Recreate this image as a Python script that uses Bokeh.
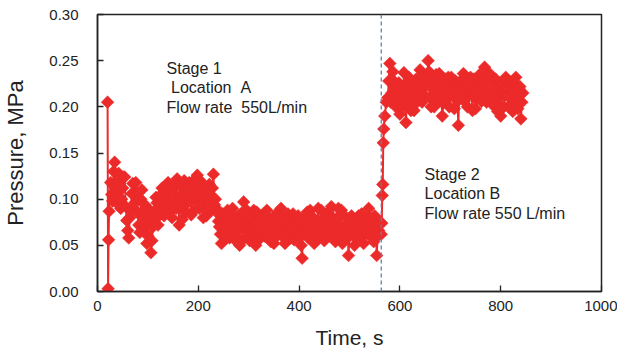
from bokeh.plotting import figure
from bokeh.models import Range1d, FixedTicker, NumeralTickFormatter, Span, Label
from bokeh.embed import file_html
from bokeh.resources import INLINE
import numpy as np

# ---- data ----
time_a = [20, 21, 22, 23,
          26, 30, 34, 38, 42, 46, 50, 54, 58, 62,
          66, 70, 74, 78, 82, 86, 90, 94, 98, 102,
          106, 110, 114, 118, 122, 126, 130, 134, 138, 142,
          146, 150, 154, 158, 162, 166, 170, 174, 178, 182,
          186, 190, 194, 198, 202, 206, 210, 214, 218, 222,
          226, 230, 234, 238, 242, 246, 250, 254, 258, 262,
          266, 270, 274, 278, 282, 286, 290, 294, 298, 302,
          306, 310, 314, 318, 322, 326, 330, 334, 338, 342,
          346, 350, 354, 358, 362, 366, 370, 374, 378, 382,
          386, 390, 394, 398, 402, 406, 410, 414, 418, 422,
          426, 430, 434, 438, 442, 446, 450, 454, 458, 462,
          466, 470, 474, 478, 482, 486, 490, 494, 498, 502,
          506, 510, 514, 518, 522, 526, 530, 534, 538, 542,
          546, 550, 554, 558, 561,
          563, 564, 565, 566, 567, 568, 570, 573, 576,
          580, 584, 588, 592, 596, 600, 604, 608, 612, 616,
          620, 624, 628, 632, 636, 640, 644, 648, 652, 656,
          660, 664, 668, 672, 676, 680, 684, 688, 692, 696,
          700, 704, 708, 712, 716, 720, 724, 728, 732, 736,
          740, 744, 748, 752, 756, 760, 764, 768, 772, 776,
          780, 784, 788, 792, 796, 800, 804, 808, 812, 816,
          820, 824, 828, 832, 836, 840, 844]

pressure_a = [0.205, 0.003, 0.056, 0.087,
              0.118, 0.098, 0.140, 0.105, 0.128, 0.090, 0.112, 0.124, 0.077, 0.058,
              0.088, 0.117, 0.096, 0.108, 0.072, 0.100, 0.085, 0.094, 0.052, 0.078,
              0.042, 0.070, 0.088, 0.096, 0.082, 0.105, 0.090, 0.112, 0.098, 0.085,
              0.108, 0.093, 0.116, 0.122, 0.072, 0.102, 0.088, 0.110, 0.096, 0.118,
              0.083, 0.104, 0.122, 0.126, 0.090, 0.106, 0.080, 0.112, 0.095, 0.116,
              0.088, 0.127, 0.100, 0.085, 0.070, 0.052, 0.078, 0.064, 0.088, 0.058,
              0.072, 0.082, 0.060, 0.076, 0.050, 0.085, 0.097, 0.066, 0.078, 0.055,
              0.072, 0.088, 0.050, 0.068, 0.080, 0.062, 0.084, 0.072, 0.058, 0.078,
              0.066, 0.052, 0.075, 0.086, 0.064, 0.080, 0.058, 0.072, 0.084, 0.066,
              0.074, 0.056, 0.070, 0.082, 0.060, 0.036, 0.068, 0.080, 0.058, 0.088,
              0.070, 0.052, 0.076, 0.090, 0.064, 0.078, 0.055, 0.072, 0.086, 0.066,
              0.080, 0.058, 0.074, 0.090, 0.062, 0.052, 0.070, 0.080, 0.039, 0.064,
              0.076, 0.050, 0.068, 0.082, 0.058, 0.072, 0.064, 0.078, 0.090, 0.060,
              0.070, 0.082, 0.039, 0.066, 0.075,
              0.062, 0.074, 0.104, 0.116, 0.161, 0.176, 0.190, 0.205, 0.210,
              0.247, 0.215, 0.228, 0.200, 0.222, 0.192, 0.210, 0.237, 0.183, 0.225,
              0.205, 0.218, 0.196, 0.230, 0.212, 0.240, 0.205, 0.222, 0.232, 0.250,
              0.210, 0.226, 0.200, 0.235, 0.215, 0.228, 0.190, 0.220, 0.208, 0.232,
              0.218, 0.225, 0.198, 0.222, 0.180, 0.215, 0.230, 0.206, 0.226, 0.212,
              0.232, 0.196, 0.220, 0.208, 0.228, 0.215, 0.224, 0.243, 0.205, 0.232,
              0.215, 0.226, 0.200, 0.222, 0.210, 0.190, 0.225, 0.212, 0.228, 0.200,
              0.218, 0.195, 0.226, 0.210, 0.220, 0.187, 0.215]

time_b = [28, 32, 36, 40, 44, 48, 52, 56, 60, 64,
          68, 72, 76, 80, 84, 88, 92, 96, 100, 104,
          108, 112, 116, 120, 124, 128, 132, 136, 140, 144,
          148, 152, 156, 160, 164, 168, 172, 176, 180, 184,
          188, 192, 196, 200, 204, 208, 212, 216, 220, 224,
          228, 232, 236, 240, 244, 248, 252, 256, 260, 264,
          268, 272, 276, 280, 284, 288, 292, 296, 300, 304,
          308, 312, 316, 320, 324, 328, 332, 336, 340, 344,
          348, 352, 356, 360, 364, 368, 372, 376, 380, 384,
          388, 392, 396, 400, 404, 408, 412, 416, 420, 424,
          428, 432, 436, 440, 444, 448, 452, 456, 460, 464,
          468, 472, 476, 480, 484, 488, 492, 496, 500, 504,
          508, 512, 516, 520, 524, 528, 532, 536, 540, 544,
          548, 552, 556,
          578, 582, 586, 590, 594, 598, 602, 606, 610, 614,
          618, 622, 626, 630, 634, 638, 642, 646, 650, 654,
          658, 662, 666, 670, 674, 678, 682, 686, 690, 694,
          698, 702, 706, 710, 714, 718, 722, 726, 730, 734,
          738, 742, 746, 750, 754, 758, 762, 766, 770, 774,
          778, 782, 786, 790, 794, 798, 802, 806, 810, 814,
          818, 822, 826, 830, 834, 838, 842]

pressure_b = [0.105, 0.130, 0.112, 0.095, 0.120, 0.100, 0.124, 0.092, 0.066, 0.080,
              0.106, 0.090, 0.118, 0.085, 0.064, 0.110, 0.078, 0.070, 0.060, 0.088,
              0.055, 0.080, 0.102, 0.072, 0.095, 0.112, 0.082, 0.104, 0.118, 0.095,
              0.080, 0.106, 0.090, 0.100, 0.115, 0.078, 0.120, 0.086, 0.105, 0.098,
              0.114, 0.088, 0.100, 0.110, 0.120, 0.092, 0.100, 0.082, 0.106, 0.098,
              0.112, 0.094, 0.090, 0.076, 0.062, 0.084, 0.072, 0.058, 0.080, 0.066,
              0.090, 0.070, 0.054, 0.082, 0.068, 0.076, 0.058, 0.088, 0.070, 0.082,
              0.060, 0.074, 0.086, 0.056, 0.076, 0.070, 0.060, 0.088, 0.068, 0.054,
              0.080, 0.070, 0.060, 0.078, 0.090, 0.068, 0.052, 0.066, 0.078, 0.058,
              0.084, 0.072, 0.062, 0.076, 0.050, 0.072, 0.062, 0.086, 0.070, 0.058,
              0.080, 0.066, 0.056, 0.074, 0.088, 0.066, 0.080, 0.060, 0.074, 0.092,
              0.068, 0.054, 0.080, 0.070, 0.088, 0.064, 0.058, 0.074, 0.060, 0.082,
              0.068, 0.058, 0.074, 0.066, 0.084, 0.052, 0.070, 0.062, 0.080, 0.066,
              0.054, 0.072, 0.060,
              0.228, 0.205, 0.238, 0.218, 0.208, 0.226, 0.214, 0.200, 0.222, 0.210,
              0.232, 0.196, 0.225, 0.215, 0.205, 0.226, 0.218, 0.236, 0.212, 0.228,
              0.238, 0.200, 0.218, 0.228, 0.205, 0.236, 0.212, 0.204, 0.230, 0.215,
              0.200, 0.232, 0.212, 0.228, 0.206, 0.222, 0.210, 0.236, 0.218, 0.200,
              0.224, 0.214, 0.230, 0.198, 0.218, 0.235, 0.206, 0.220, 0.230, 0.212,
              0.236, 0.204, 0.218, 0.230, 0.195, 0.216, 0.226, 0.200, 0.232, 0.212,
              0.226, 0.204, 0.215, 0.232, 0.198, 0.222, 0.205]

x_ticks = [0, 200, 400, 600, 800, 1000]
y_ticks = [0.00, 0.05, 0.10, 0.15, 0.20, 0.25, 0.30]
stage_change_s = 563

NB = "\u00a0"
stage1_lines = ["Stage" + NB + "1", NB + "Location" + NB * 2 + "A", "Flow rate" + NB * 2 + "550L/min"]
stage2_lines = ["Stage 2", "Location" + NB + "B", "Flow rate 550 L/min"]
x_title = "Time, s"
y_title = "Pressure, MPa"

# merge the two read-off series in time order
t_all = np.array(time_a + time_b, dtype=float)
p_all = np.array(pressure_a + pressure_b, dtype=float)
order = np.argsort(t_all, kind="stable")
t_all = t_all[order]
p_all = p_all[order]

FONT = "Liberation Sans"
RED = "#EC2A2A"
INK = "#222222"

p = figure(width=617, height=353, output_backend="svg", toolbar_location=None,
           x_range=Range1d(0, 1000), y_range=Range1d(0, 0.30),
           min_border_left=97, min_border_right=16, min_border_top=14, min_border_bottom=62)

p.xgrid.visible = False
p.ygrid.visible = False
p.outline_line_color = INK
p.outline_line_width = 1.5
p.background_fill_color = "white"
p.border_fill_color = "white"

p.line(t_all, p_all, line_color=RED, line_width=2)
p.scatter(t_all, p_all, marker="square", angle=np.pi / 4, size=9,
          fill_color=RED, line_color=RED, line_width=0.5)

p.add_layout(Span(location=stage_change_s, dimension="height", line_color="#5B80B4",
                  line_dash="4 3", line_width=1.3))

for ax in (p.xaxis[0], p.yaxis[0]):
    ax.axis_line_color = INK
    ax.axis_line_width = 1.5
    ax.major_tick_line_color = INK
    ax.major_tick_line_width = 1.3
    ax.major_tick_in = 6
    ax.major_tick_out = 0
    ax.minor_tick_line_color = None
    ax.major_label_text_font = FONT
    ax.major_label_text_font_size = "15px"
    ax.major_label_text_color = INK
    ax.axis_label_text_font = FONT
    ax.axis_label_text_font_style = "normal"
    ax.axis_label_text_color = INK

p.xaxis.ticker = FixedTicker(ticks=x_ticks)
p.yaxis.ticker = FixedTicker(ticks=y_ticks)
p.yaxis.formatter = NumeralTickFormatter(format="0.00")
p.xaxis.major_label_standoff = 9
p.yaxis.major_label_standoff = 19
p.xaxis.axis_label = x_title
p.yaxis.axis_label = y_title
p.xaxis.axis_label_text_font_size = "21px"
p.yaxis.axis_label_text_font_size = "22px"
p.xaxis.axis_label_standoff = 12
p.yaxis.axis_label_standoff = 18

s1_x = [137, 137, 137]
s1_y = [0.2415, 0.221, 0.1993]
for txt, xx, yy in zip(stage1_lines, s1_x, s1_y):
    p.add_layout(Label(x=xx, y=yy, text=txt, text_font=FONT, text_font_size="16px",
                       text_color=INK, text_baseline="alphabetic"))
s2_x = [649, 649, 649]
s2_y = [0.1267, 0.1061, 0.0845]
for txt, xx, yy in zip(stage2_lines, s2_x, s2_y):
    p.add_layout(Label(x=xx, y=yy, text=txt, text_font=FONT, text_font_size="16px",
                       text_color=INK, text_baseline="alphabetic"))

open("out.html", "w").write(file_html(p, INLINE))
